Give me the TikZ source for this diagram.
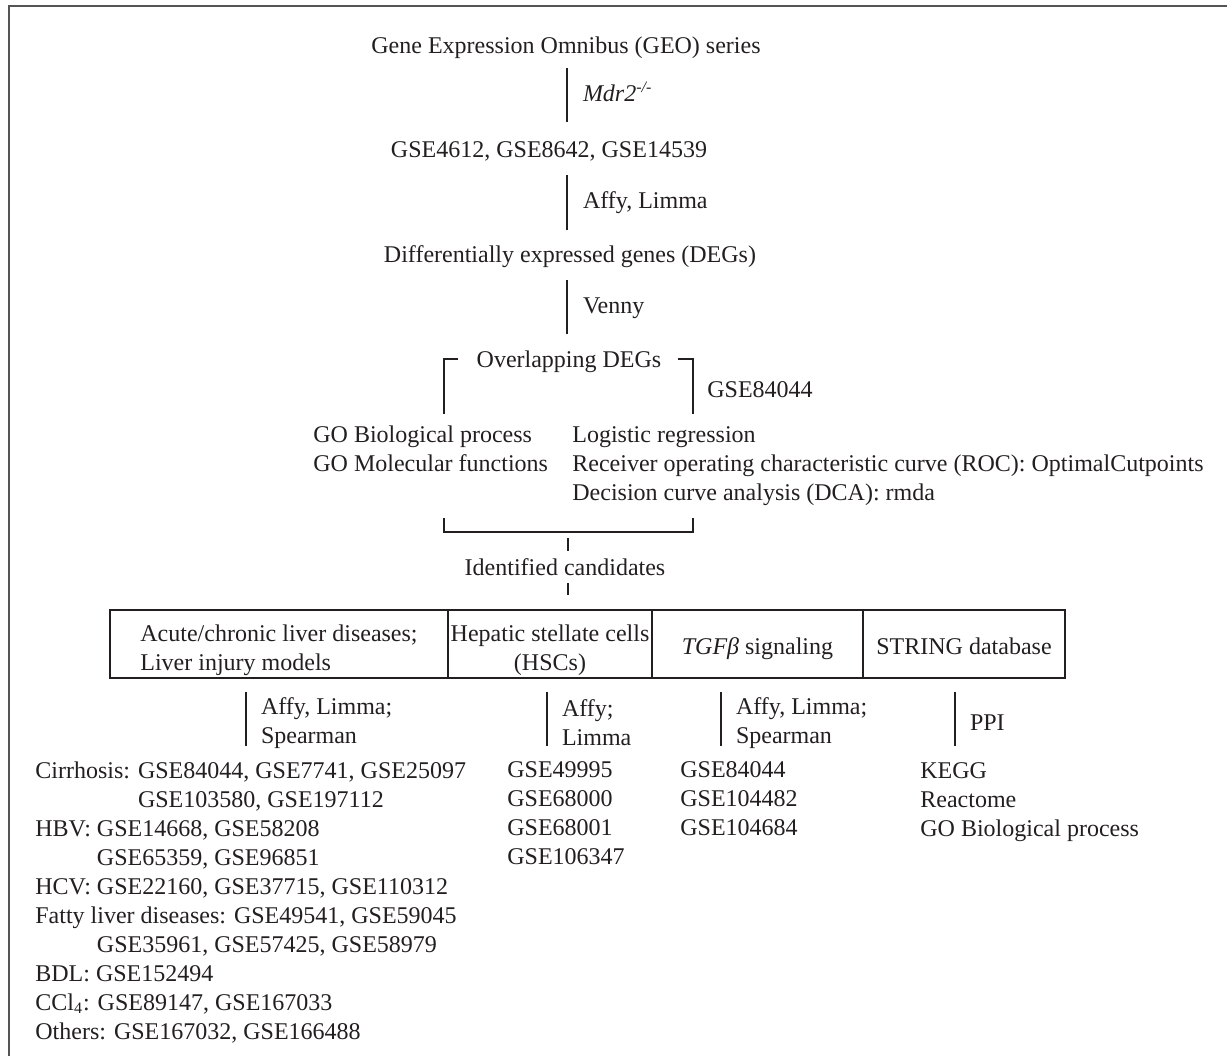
\documentclass[tikz,border=0pt]{standalone}
\usepackage{fontspec}
\setmainfont{Liberation Serif}
\usetikzlibrary{calc,positioning}
\definecolor{ink}{HTML}{231F20}
\definecolor{rim}{HTML}{555555}

\begin{document}
\begin{tikzpicture}[x=0.5pt,y=-0.5pt,font=\fontsize{12}{14.5}\selectfont,text=ink,
 txt/.style={inner sep=0pt,text height=8pt,text depth=2pt},
 blk/.style={inner sep=0pt,align=left,anchor=base west},
 link/.style={draw=ink,line width=1pt},
 lbl/.style={txt,anchor=west,xshift=7.5pt},
 lbl2/.style={inner sep=0pt,align=left,anchor=west,xshift=7pt,yshift=-2pt},
 cell/.style={draw=ink,line width=1pt,minimum height=34pt,inner xsep=1pt,inner ysep=0pt,text height=12pt,text depth=2pt},
 cell2l/.style={cell,text height=29pt,text depth=3pt}]
\useasboundingbox (0,0) rectangle (1227,1056);
\draw[rim,line width=1.2pt] (1227,6) -- (9,6) -- (9,1056);

% main chain
\node[txt] (geo) at (566,47) {Gene Expression Omnibus (GEO) series};
\node[txt] (gse) at (549,151) {GSE4612, GSE8642, GSE14539};
\node[txt] (degs) at (570,256) {Differentially expressed genes (DEGs)};
\node[txt] (ovl) at (569,361) {Overlapping DEGs};
\draw[link] (geo.south -| 567,0) ++(0,11) -- ++(0,54) node[lbl,midway] (mdr) {\textit{Mdr2\textsuperscript{-/-}}};
\draw[link] (gse.south -| 567,0) ++(0,14) -- ++(0,55) node[lbl,midway] (affy) {Affy, Limma};
\draw[link] (degs.south -| 567,0) ++(0,14) -- ++(0,54) node[lbl,midway] (venny) {Venny};

% two branches and their bracket (base = last line)
\node[blk] (gocol) at (313,471) {GO Biological process\\GO Molecular functions};
\node[blk] (lrcol) at (572,500) {Logistic regression\\Receiver operating characteristic curve (ROC): OptimalCutpoints\\Decision curve analysis (DCA): rmda};
\coordinate (bl) at (444,414);
\coordinate (br) at (693,414);
\draw[link] (ovl.west) ++(-18,-2) -| (bl);
\draw[link] (ovl.east) ++(16,-2) -| (br);
\node[txt,anchor=west] (gsex) at (707,391) {GSE84044};
\coordinate (bbl) at (444,518);
\coordinate (bbr) at (693,518);
\draw[link] (bbl) -- ++(0,14) -| (bbr);

\node[txt] (cand) at (565,569) {Identified candidates};
\draw[link] (cand.north) ++(3,-8) -- ++(0,-13);
\draw[link] (cand.south) ++(3,4) -- ++(0,12);

% row of sources
\node[cell2l,minimum width=169pt,align=left] (cell1) at (279,644) {Acute/chronic liver diseases;\\Liver injury models};
\node[cell2l,minimum width=102pt,align=center] (cell2) at (550,644) {Hepatic stellate cells\\(HSCs)};
\node[cell,minimum width=105.5pt] (cell3) at (757.5,644) {\textit{TGFβ} signaling};
\node[cell,minimum width=101pt] (cell4) at (964,644) {STRING database};
\foreach \n/\dx/\t in {cell1/-33/{Affy, Limma;\\Spearman},cell2/-3/{Affy;\\Limma},cell3/-36.5/{Affy, Limma;\\Spearman},cell4/-9/{PPI}}
 \draw[link] (\n.south) ++(\dx,13) -- ++(0,54) node[lbl2,midway] (tool-\n) {\t};

% data sets (base = last line)
\node[blk] (liver) at (35,1039) {Cirrhosis: GSE84044, GSE7741, GSE25097\\
 \phantom{Cirrhosis: }GSE103580, GSE197112\\
 HBV: GSE14668, GSE58208\\
 \phantom{HBV: }GSE65359, GSE96851\\
 HCV: GSE22160, GSE37715, GSE110312\\
 Fatty liver diseases: GSE49541, GSE59045\\
 \phantom{HBV: }GSE35961, GSE57425, GSE58979\\
 BDL: GSE152494\\
 CCl\textsubscript{4}: GSE89147, GSE167033\\
 Others: GSE167032, GSE166488};
\node[blk] (hsc) at (507,864) {GSE49995\\GSE68000\\GSE68001\\GSE106347};
\node[blk] (tgf) at (680,835) {GSE84044\\GSE104482\\GSE104684};
\node[blk] (ppi) at (920,836) {KEGG\\Reactome\\GO Biological process};
\end{tikzpicture}
\end{document}
